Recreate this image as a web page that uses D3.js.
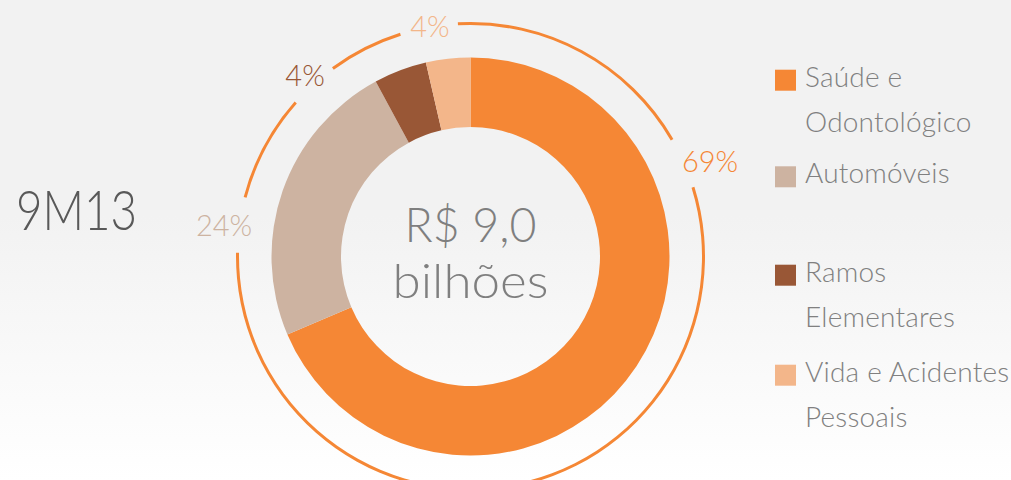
<!DOCTYPE html>
<html>
<head>
<meta charset="utf-8">
<script src="https://cdn.jsdelivr.net/npm/d3@7"></script>
<style>
  html, body { margin: 0; padding: 0; }
  body { width: 1011px; height: 480px; overflow: hidden; }
  svg { display: block; }
  text { font-family: Lato, "Open Sans", sans-serif; font-weight: 300; }
</style>
</head>
<body>
<svg id="chart" width="1011" height="480"></svg>
<script>
// ---- data ----
const categories = ["Saúde e Odontológico", "Automóveis", "Ramos Elementares", "Vida e Acidentes Pessoais"];
const legendLines = [["Saúde e", "Odontológico"], ["Automóveis"], ["Ramos", "Elementares"], ["Vida e Acidentes", "Pessoais"]];
const values = [68.6, 23.5, 4.3, 3.6];
const pctLabels = ["69%", "24%", "4%", "4%"];
const periodLabel = "9M13";
const centerLines = ["R$ 9,0", "bilhões"];

// ---- styles / layout ----
const colors = ["#F58735", "#CDB3A1", "#995736", "#F3B68A"];
const width = 1011, height = 480;
const cx = 470.5, cy = 256.5;
const outerR = 199, innerR = 129.5;
const ringR = 233, ringW = 3;
// label placement: angle (deg, clockwise from 12 o'clock), radius, ring gap half-width (deg)
const labelAngle = [68.3, 277.1, 317.5, 350];
const labelRadius = [257.8, 248.4, 244.9, 234];
const gapCenter = [66.3, 277.8, 317.6, 349.7];
const gapHalf = [6.4, 6.9, 6.2, 7.2];

const svg = d3.select("#chart");
const defs = svg.append("defs");
const grad = defs.append("linearGradient").attr("id", "bg").attr("x1", 0).attr("y1", 0).attr("x2", 0).attr("y2", 1);
grad.append("stop").attr("offset", "0").attr("stop-color", "#f2f2f2");
grad.append("stop").attr("offset", "0.45").attr("stop-color", "#f2f2f2");
grad.append("stop").attr("offset", "1").attr("stop-color", "#ffffff");
svg.append("rect").attr("width", width).attr("height", height).attr("fill", "url(#bg)");

const color = d3.scaleOrdinal().domain(categories).range(colors);
const pie = d3.pie().sort(null).value(d => d.v);
const arcs = pie(categories.map((c, i) => ({ c, v: values[i] })));
const arc = d3.arc().innerRadius(innerR).outerRadius(outerR);

const g = svg.append("g").attr("transform", `translate(${cx},${cy})`);
g.selectAll("path.slice").data(arcs).enter().append("path")
  .attr("class", "slice")
  .attr("d", arc)
  .attr("fill", d => color(d.data.c));

// outer ring with gaps at labels
const rad = Math.PI / 180;
const gaps = gapCenter.map((c, i) => [c - gapHalf[i], c + gapHalf[i]]).sort((a, b) => a[0] - b[0]);
const segs = [];
for (let i = 0; i < gaps.length; i++) {
  const s = gaps[i][1];
  const e = i + 1 < gaps.length ? gaps[i + 1][0] : gaps[0][0] + 360;
  segs.push([s, e]);
}
const ringArc = d3.arc().innerRadius(ringR - ringW / 2).outerRadius(ringR + ringW / 2);
g.selectAll("path.ring").data(segs).enter().append("path")
  .attr("class", "ring")
  .attr("d", d => ringArc({ startAngle: d[0] * rad, endAngle: d[1] * rad }))
  .attr("fill", "#F58735");

// percentage labels
g.selectAll("text.pct").data(arcs).enter().append("text")
  .attr("class", "pct")
  .attr("x", (d, i) => labelRadius[i] * Math.sin(labelAngle[i] * rad))
  .attr("y", (d, i) => -labelRadius[i] * Math.cos(labelAngle[i] * rad))
  .attr("dy", "0.36em")
  .attr("text-anchor", "middle")
  .attr("font-size", 29)
  .attr("fill", d => color(d.data.c))
  .text((d, i) => pctLabels[i]);

// center text
g.append("text").attr("text-anchor", "middle").attr("y", -15).attr("font-size", 48)
  .attr("textLength", 132).attr("lengthAdjust", "spacingAndGlyphs")
  .attr("fill", "#7f7f7f").text(centerLines[0]);
g.append("text").attr("text-anchor", "middle").attr("y", 41.5).attr("font-size", 48)
  .attr("textLength", 156).attr("lengthAdjust", "spacingAndGlyphs")
  .attr("fill", "#7f7f7f").text(centerLines[1]);

// period label
svg.append("text").attr("x", 16).attr("y", 230).attr("font-size", 55)
  .attr("textLength", 121).attr("lengthAdjust", "spacingAndGlyphs")
  .attr("fill", "#595959").text(periodLabel);

// legend
const legendY = [86.7, 183.3, 281.7, 381.7];
const leg = svg.append("g");
categories.forEach((c, i) => {
  leg.append("rect").attr("x", 775).attr("y", legendY[i] - 17).attr("width", 21).attr("height", 21).attr("fill", color(c));
  legendLines[i].forEach((ln, j) => {
    leg.append("text").attr("x", 805).attr("y", legendY[i] + j * 45).attr("font-size", 28)
      .attr("letter-spacing", 0.2).attr("fill", "#808080").text(ln);
  });
});
</script>
</body>
</html>
